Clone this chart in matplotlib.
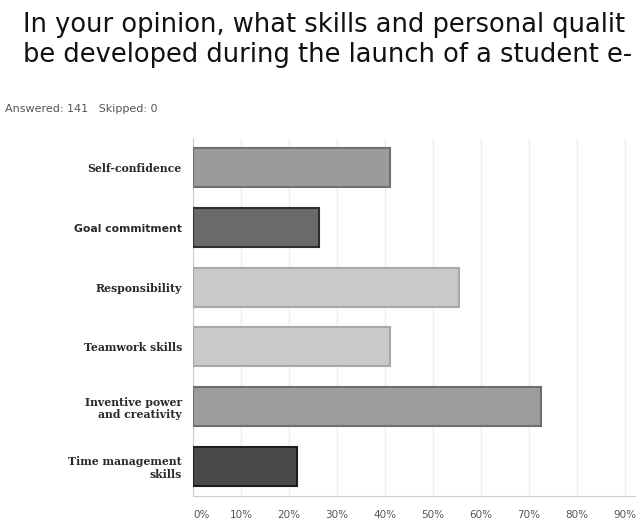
import matplotlib.pyplot as plt
import numpy as np

# Data
categories = ['Self-confidence', 'Goal commitment', 'Responsibility',
              'Teamwork skills', 'Inventive power\nand creativity',
              'Time management\nskills']
shares = [41, 26.3, 55.5, 41, 72.5, 21.6]
fills = ['#9b9b9b', '#6a6a6a', '#c9c9c9', '#c9c9c9', '#9d9d9d', '#4a4a4a']
edges = ['#707070', '#2e2e2e', '#a8a8a8', '#a8a8a8', '#6e6e6e', '#1e1e1e']
ticks = [0, 10, 20, 30, 40, 50, 60, 70, 80, 90]
# title as far as the screenshot shows it
title_lines = ['In your opinion, what skills and personal qualit',
               'be developed during the launch of a student e-']

fig = plt.figure(figsize=(6.36, 5.22), dpi=100)
ax = fig.add_axes([193 / 636, 26 / 522, 443 / 636, 358 / 522])

y = np.arange(len(categories))
ax.barh(y, shares, height=0.65, color=fills, edgecolor=edges, linewidth=1.5, zorder=3)

ax.set_xlim(0, 92.3)
ax.set_ylim(5.5, -0.5)
ax.set_xticks(ticks)
ax.set_xticklabels([f'{t}%' for t in ticks], fontsize=7.5, color='#555555',
                   family='DejaVu Sans')
ax.get_xticklabels()[0].set_ha('left')
ax.set_yticks(y)
ax.set_yticklabels(categories, fontsize=7.8, color='#2a2a2a',
                   family='DejaVu Serif', fontweight='bold')
ax.get_yticklabels()[1].set_family('DejaVu Sans')
ax.tick_params(axis='both', length=0)
ax.tick_params(axis='y', pad=8)
ax.tick_params(axis='x', pad=10)
ax.grid(axis='x', color='#ececec', linewidth=1, zorder=0)

for side in ['top', 'right']:
    ax.spines[side].set_visible(False)
ax.spines['left'].set_color('#cccccc')
ax.spines['bottom'].set_color('#cccccc')

for line, base in zip(title_lines, [32, 61.5]):
    fig.text(23 / 636, 1 - base / 522, line, fontsize=18.5,
             family='DejaVu Sans', color='#111111', va='baseline')
fig.text(5 / 636, 1 - 112 / 522, 'Answered: 141   Skipped: 0',
         fontsize=8, color='#555555', family='DejaVu Sans', va='baseline')

fig.savefig('out.png', dpi=100)
